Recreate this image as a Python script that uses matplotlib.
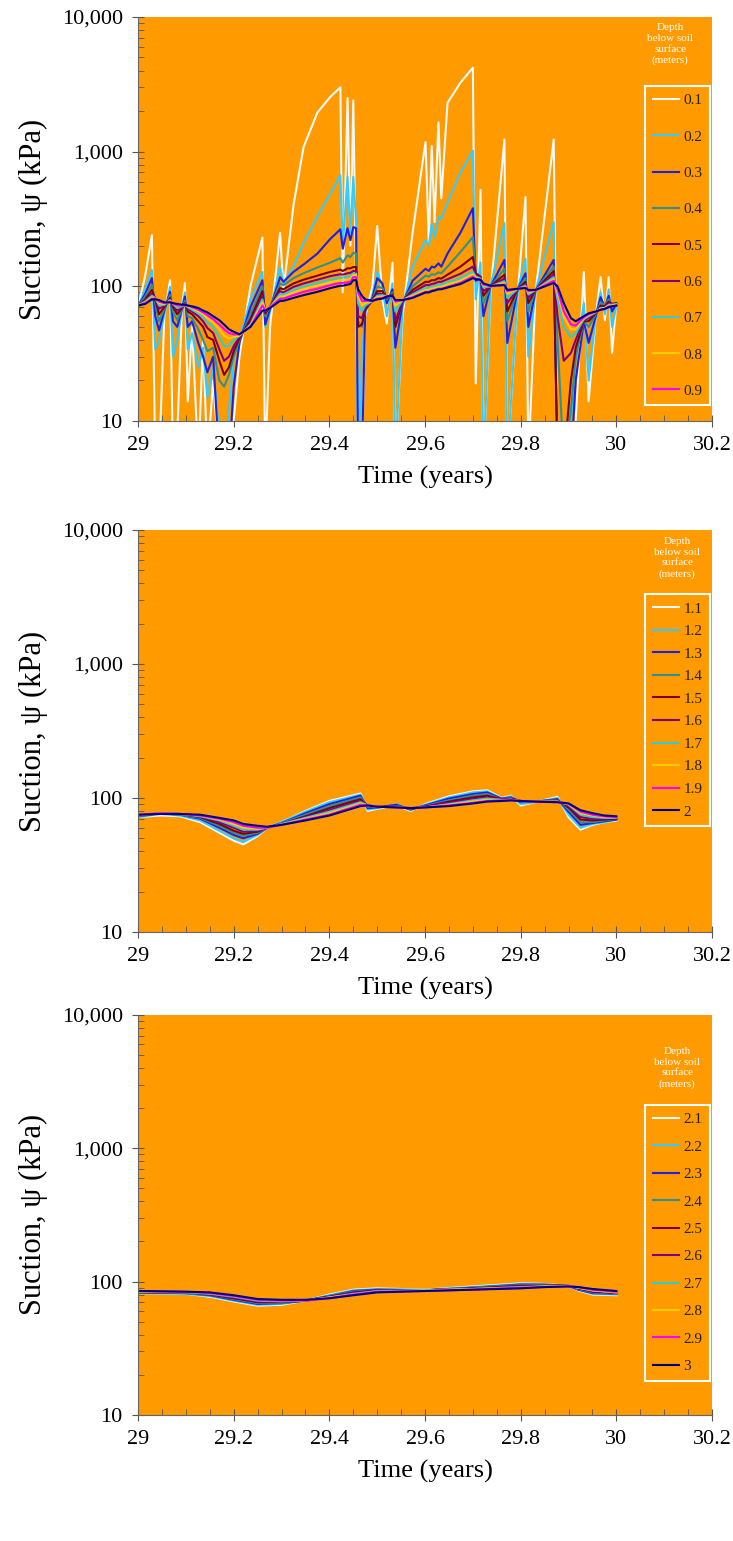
import matplotlib
matplotlib.use('Agg')
import matplotlib.pyplot as plt
from matplotlib.ticker import FixedLocator, MultipleLocator, LogLocator, FuncFormatter, NullFormatter

plt.rcParams['font.family'] = ['Liberation Serif', 'DejaVu Serif']

# ---- panel 1: depths 0.1 - 1.0 m ----
t_top = [29.000, 29.015, 29.029, 29.036, 29.044, 29.055, 29.067, 29.073, 29.082, 29.092,
         29.098, 29.104, 29.113, 29.126, 29.136, 29.145, 29.157, 29.170, 29.180, 29.190,
         29.200, 29.212, 29.235, 29.260, 29.266, 29.276, 29.297, 29.304, 29.325, 29.346,
         29.375, 29.402, 29.423, 29.428, 29.438, 29.444, 29.450, 29.456, 29.460, 29.468,
         29.475, 29.490, 29.500, 29.511, 29.520, 29.532, 29.538, 29.553, 29.574, 29.601,
         29.608, 29.614, 29.620, 29.628, 29.634, 29.647, 29.674, 29.700, 29.706, 29.716,
         29.722, 29.737, 29.766, 29.772, 29.794, 29.810, 29.816, 29.831, 29.869, 29.877,
         29.890, 29.905, 29.915, 29.932, 29.942, 29.957, 29.967, 29.976, 29.984, 29.991,
         30.000]

top_01 = [70, 120, 240, 5, 5, 60, 111, 5, 8, 70,
          106, 14, 50, 5, 40, 5, 20, 5, 5, 8,
          10, 30, 100, 230, 5, 50, 250, 94, 400, 1080,
          1950, 2550, 3000, 90, 2500, 200, 2400, 100, 5, 5,
          60, 100, 280, 80, 53, 150, 5, 60, 250, 1180,
          210, 1100, 300, 1650, 450, 2300, 3250, 4200, 19, 520,
          5, 90, 1230, 5, 90, 460, 5, 90, 1230, 5,
          5, 5, 10, 128, 14, 60, 117, 56, 117, 32,
          75]
top_02 = [70, 95, 132, 34, 40, 62, 99, 30, 40, 68,
          90, 34, 45, 25, 35, 15, 25, 8, 5, 12,
          30, 40, 80, 128, 50, 65, 139, 105, 140, 210,
          330, 490, 670, 200, 650, 250, 650, 300, 5, 30,
          65, 85, 128, 100, 60, 105, 5, 70, 140, 220,
          200, 290, 230, 330, 320, 420, 700, 1020, 80, 150,
          5, 100, 295, 5, 95, 160, 30, 92, 300, 5,
          5, 10, 30, 75, 20, 60, 90, 62, 95, 50,
          72]
top_03 = [71, 88, 115, 60, 47, 66, 91, 55, 50, 68,
          84, 50, 55, 38, 30, 23, 30, 5, 5, 5,
          18, 38, 70, 111, 52, 68, 117, 108, 128, 145,
          175, 225, 265, 190, 270, 220, 275, 270, 5, 5,
          66, 82, 115, 105, 75, 95, 35, 75, 110, 135,
          130, 140, 138, 148, 140, 175, 250, 380, 110, 115,
          60, 100, 157, 38, 96, 125, 50, 93, 157, 5,
          5, 5, 20, 55, 38, 60, 83, 70, 85, 65,
          74]
top_04 = [71, 84, 102, 75, 55, 68, 86, 65, 56, 68,
          78, 60, 58, 48, 40, 33, 35, 20, 18, 22,
          30, 40, 62, 100, 60, 70, 105, 102, 115, 125,
          138, 150, 162, 150, 170, 165, 177, 175, 55, 50,
          66, 80, 100, 97, 80, 90, 50, 77, 100, 120,
          118, 123, 122, 127, 125, 140, 180, 232, 120, 115,
          75, 100, 135, 55, 96, 115, 65, 94, 140, 40,
          5, 12, 30, 55, 50, 62, 76, 72, 80, 72,
          75]
top_05 = [71, 80, 94, 80, 62, 70, 82, 70, 62, 69,
          75, 65, 62, 55, 50, 42, 40, 28, 22, 25,
          33, 41, 57, 92, 63, 70, 97, 95, 105, 112,
          120, 128, 133, 130, 136, 136, 139, 139, 50, 52,
          67, 79, 92, 92, 82, 87, 50, 78, 94, 108,
          108, 111, 111, 115, 114, 122, 140, 165, 125, 118,
          85, 100, 122, 65, 96, 108, 75, 94, 130, 5,
          5, 20, 35, 55, 55, 63, 72, 71, 77, 74,
          75]
top_06 = [72, 78, 88, 82, 68, 72, 80, 73, 66, 70,
          74, 68, 65, 60, 55, 49, 45, 34, 28, 30,
          36, 42, 54, 85, 65, 70, 92, 90, 99, 105,
          112, 119, 123, 122, 125, 126, 130, 130, 60, 58,
          69, 78, 88, 88, 83, 86, 55, 78, 90, 102,
          102, 104, 105, 108, 108, 113, 124, 140, 122, 116,
          92, 100, 114, 75, 96, 104, 82, 94, 122, 60,
          28, 32, 40, 56, 58, 64, 70, 70, 75, 74,
          74]
top_07 = [72, 77, 85, 82, 72, 73, 79, 74, 69, 71,
          73, 70, 67, 63, 59, 54, 50, 42, 36, 36,
          40, 43, 52, 80, 66, 70, 88, 87, 94, 100,
          106, 112, 116, 116, 118, 119, 124, 124, 75, 65,
          72, 78, 85, 86, 84, 85, 65, 79, 87, 97,
          97, 99, 100, 103, 103, 107, 115, 128, 118, 114,
          98, 100, 109, 82, 96, 101, 87, 94, 117, 80,
          50, 42, 45, 57, 60, 64, 69, 69, 73, 73,
          74]
top_08 = [72, 76, 83, 81, 75, 74, 78, 75, 71, 72,
          73, 71, 69, 65, 62, 58, 54, 48, 43, 41,
          42, 43, 51, 76, 66, 70, 84, 84, 90, 95,
          101, 107, 111, 111, 112, 113, 121, 121, 85, 72,
          75, 78, 83, 84, 84, 85, 72, 79, 85, 94,
          94, 96, 97, 99, 99, 103, 110, 123, 116, 113,
          101, 100, 106, 88, 96, 99, 90, 94, 113, 90,
          60, 48, 48, 58, 61, 65, 68, 69, 72, 72,
          73]
top_09 = [72, 75, 81, 81, 77, 75, 77, 75, 72, 72,
          73, 72, 70, 67, 64, 61, 57, 52, 48, 45,
          44, 44, 50, 72, 66, 70, 81, 81, 86, 91,
          96, 102, 106, 106, 107, 108, 117, 117, 90, 78,
          78, 78, 81, 82, 84, 85, 77, 79, 83, 91,
          91, 93, 94, 96, 96, 99, 106, 118, 114, 112,
          103, 100, 103, 92, 96, 98, 92, 94, 110, 95,
          65, 52, 51, 59, 62, 65, 67, 68, 71, 71,
          72]
top_10 = [72, 74, 80, 80, 79, 76, 76, 75, 74, 73,
          73, 72, 71, 69, 66, 64, 60, 56, 52, 48,
          46, 44, 50, 66, 66, 69, 78, 78, 82, 86,
          91, 97, 101, 101, 103, 104, 111, 111, 95, 85,
          80, 78, 80, 81, 84, 85, 79, 79, 82, 90,
          90, 92, 93, 95, 95, 98, 104, 115, 113, 112,
          105, 101, 102, 94, 96, 97, 94, 94, 106, 100,
          75, 58, 55, 60, 63, 65, 67, 68, 70, 71,
          72]
top_labels = ['0.1', '0.2', '0.3', '0.4', '0.5', '0.6', '0.7', '0.8', '0.9', None]

# ---- panel 2: depths 1.1 - 2.0 m ----
t_mid = [29.000, 29.046, 29.088, 29.130, 29.170, 29.200, 29.220, 29.250, 29.270, 29.300,
         29.350, 29.400, 29.465, 29.480, 29.500, 29.540, 29.570, 29.600, 29.650, 29.700,
         29.730, 29.760, 29.780, 29.800, 29.830, 29.877, 29.900, 29.925, 29.950, 29.975,
         30.000]
mid_11 = [72, 74, 73, 66, 55, 48, 45, 52, 60, 66, 80, 95, 108, 80, 83, 88, 80, 90, 103, 112,
          114, 100, 104, 88, 93, 102, 72, 58, 63, 66, 68]
mid_12 = [72, 76, 74, 68, 57, 50, 47, 53, 60, 66, 79, 93, 106, 82, 84, 90, 81, 89, 101, 110,
          112, 99, 103, 90, 93, 100, 75, 60, 64, 66, 69]
mid_13 = [73, 77, 75, 70, 60, 53, 50, 54, 60, 65, 77, 90, 104, 84, 85, 89, 82, 88, 99, 107,
          110, 99, 101, 93, 94, 98, 79, 63, 65, 67, 69]
mid_14 = [73, 77, 75, 71, 62, 55, 52, 55, 60, 65, 75, 87, 101, 86, 85, 87, 83, 87, 96, 104,
          107, 98, 100, 94, 94, 97, 82, 66, 66, 68, 70]
mid_15 = [74, 77, 76, 72, 64, 57, 54, 56, 60, 64, 73, 84, 98, 87, 86, 86, 83, 86, 94, 101,
          104, 98, 99, 95, 94, 96, 85, 69, 68, 69, 70]
mid_16 = [74, 77, 76, 73, 66, 60, 56, 57, 60, 64, 72, 81, 95, 88, 86, 86, 84, 86, 92, 98,
          101, 97, 98, 95, 94, 95, 87, 72, 70, 70, 71]
mid_17 = [74, 77, 76, 73, 68, 62, 58, 58, 60, 64, 71, 79, 93, 88, 86, 85, 84, 85, 90, 96,
          99, 97, 97, 95, 94, 94, 89, 75, 72, 71, 71]
mid_18 = [75, 77, 76, 74, 69, 64, 60, 59, 60, 63, 70, 77, 91, 88, 86, 85, 84, 85, 89, 94,
          97, 96, 97, 95, 94, 94, 90, 77, 74, 72, 72]
mid_19 = [75, 77, 76, 74, 70, 66, 62, 60, 60, 63, 69, 75, 89, 88, 86, 85, 84, 85, 88, 92,
          95, 96, 96, 95, 94, 93, 91, 79, 75, 73, 72]
mid_20 = [75, 76, 76, 75, 71, 68, 64, 62, 61, 63, 68, 74, 87, 88, 86, 85, 84, 85, 87, 91,
          94, 95, 96, 95, 94, 93, 91, 81, 77, 74, 73]
mid_labels = ['1.1', '1.2', '1.3', '1.4', '1.5', '1.6', '1.7', '1.8', '1.9', '2']

# ---- panel 3: depths 2.1 - 3.0 m ----
t_bot = [29.00, 29.10, 29.15, 29.20, 29.25, 29.30, 29.35, 29.40, 29.45, 29.50,
         29.60, 29.70, 29.80, 29.85, 29.90, 29.92, 29.95, 30.00]
bot_21 = [82, 81, 77, 71, 66, 67, 72, 80, 87, 89, 87, 92, 97, 96, 93, 86, 80, 79]
bot_22 = [82, 81, 78, 72, 67, 68, 72, 79, 86, 88, 87, 91, 96, 95, 93, 87, 81, 80]
bot_23 = [83, 82, 79, 73, 68, 69, 72, 78, 85, 87, 86, 90, 95, 95, 93, 87, 82, 81]
bot_24 = [83, 82, 80, 74, 69, 69, 72, 78, 84, 86, 86, 90, 94, 94, 93, 88, 83, 81]
bot_25 = [83, 83, 80, 75, 70, 70, 72, 77, 83, 86, 86, 89, 93, 93, 93, 89, 84, 82]
bot_26 = [84, 83, 81, 76, 71, 71, 72, 77, 82, 85, 86, 89, 92, 93, 93, 89, 85, 82]
bot_27 = [84, 83, 81, 77, 72, 71, 72, 76, 81, 85, 86, 88, 91, 92, 93, 90, 86, 83]
bot_28 = [84, 84, 82, 78, 73, 72, 72, 76, 80, 84, 86, 88, 90, 92, 93, 90, 86, 83]
bot_29 = [85, 84, 82, 78, 73, 72, 72, 75, 80, 84, 85, 87, 90, 91, 92, 91, 87, 84]
bot_30 = [85, 84, 83, 79, 74, 73, 73, 75, 79, 83, 85, 87, 89, 91, 92, 91, 88, 85]
bot_labels = ['2.1', '2.2', '2.3', '2.4', '2.5', '2.6', '2.7', '2.8', '2.9', '3']

BG = '#FF9A00'
colors = ['#F0FAFA', '#33CCFF', '#2020E0', '#2E9090', '#800000',
          '#800080', '#33CCCC', '#FFCC00', '#FF00FF', '#000080']


def draw_panel(ax, t, series, labels, leg_top, leg_space, title_xy):
    ax.set_facecolor(BG)
    for vals, lab, col in zip(series, labels, colors):
        ax.plot(t, vals, color=col, lw=1.5, label=lab if lab else '_nolegend_')
    ax.set_yscale('log')
    ax.set_ylim(10, 10000)
    ax.set_xlim(29, 30.2)
    ax.yaxis.set_major_locator(FixedLocator([10, 100, 1000, 10000]))
    ax.yaxis.set_major_formatter(FuncFormatter(lambda v, p: '{:,}'.format(int(round(v)))))
    ax.yaxis.set_minor_locator(LogLocator(base=10, subs=range(2, 10)))
    ax.yaxis.set_minor_formatter(NullFormatter())
    ax.xaxis.set_major_locator(MultipleLocator(0.2))
    ax.xaxis.set_minor_locator(MultipleLocator(0.05))
    ax.xaxis.set_major_formatter(FuncFormatter(lambda v, p: '{:g}'.format(round(v, 1))))
    ax.tick_params(which='major', direction='inout', length=8, labelsize=16,
                   color='#555555', pad=7)
    ax.tick_params(which='minor', direction='in', length=4, color='#555555')
    for s in ['top', 'right']:
        ax.spines[s].set_visible(False)
    for s in ['left', 'bottom']:
        ax.spines[s].set_color('#666666')
    ax.set_xlabel('Time (years)', fontsize=19, labelpad=8)
    ax.set_ylabel('Suction, \u03c8 (kPa)', fontsize=22, labelpad=10)

    leg = ax.legend(loc='upper right', bbox_to_anchor=(0.997, leg_top), borderaxespad=0,
                    fontsize=11, labelspacing=leg_space, handlelength=1.7,
                    handletextpad=0.3, borderpad=0.5, fancybox=False, framealpha=1,
                    facecolor=BG, edgecolor='white', labelcolor='#222222')
    leg.get_frame().set_linewidth(1.5)
    ax.text(title_xy[0], title_xy[1], 'Depth\nbelow soil\nsurface\n(meters)',
            transform=ax.transAxes, ha='center', va='top', color='white',
            fontsize=8, linespacing=1.25)


fig = plt.figure(figsize=(7.33, 15.41), dpi=100)
ax1 = fig.add_axes([0.1883, 0.7268, 0.7831, 0.2622])
ax2 = fig.add_axes([0.1883, 0.3952, 0.7831, 0.2609])
ax3 = fig.add_axes([0.1883, 0.0818, 0.7831, 0.2596])

draw_panel(ax1, t_top, [top_01, top_02, top_03, top_04, top_05,
                        top_06, top_07, top_08, top_09, top_10],
           top_labels, 0.829, 1.48, (0.927, 0.985))
draw_panel(ax2, t_mid, [mid_11, mid_12, mid_13, mid_14, mid_15,
                        mid_16, mid_17, mid_18, mid_19, mid_20],
           mid_labels, 0.84, 0.58, (0.939, 0.983))
draw_panel(ax3, t_bot, [bot_21, bot_22, bot_23, bot_24, bot_25,
                        bot_26, bot_27, bot_28, bot_29, bot_30],
           bot_labels, 0.775, 0.9, (0.939, 0.92))

fig.savefig('out.png', dpi=100, facecolor='white')
